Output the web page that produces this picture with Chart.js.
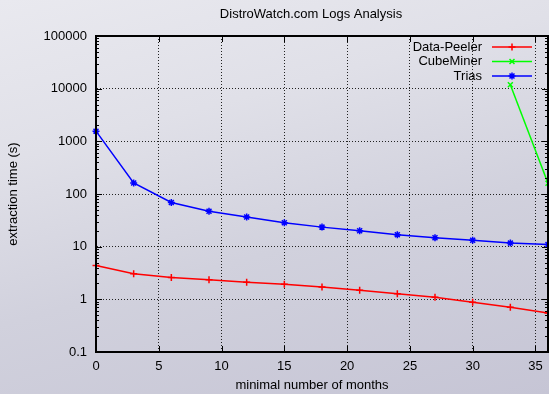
<!DOCTYPE html>
<html>
<head>
<meta charset="utf-8">
<script src="https://cdn.jsdelivr.net/npm/chart.js@4.4.1/dist/chart.umd.min.js"></script>
<style>
    html, body { margin: 0; padding: 0; }
    body {
        width: 549px; height: 394px; overflow: hidden;
        background: linear-gradient(165deg, #e9e9ef 0%, #e0e0e8 30%, #d1d1dd 60%, #c6c5d5 100%);
    }
    #wrap { position: relative; width: 549px; height: 394px; }
</style>
</head>
<body>
<div id="wrap"><canvas id="logsChart" width="549" height="394"></canvas></div>
<script>
// months threshold (x) and extraction times in seconds (y, log scale)
const months = [0, 3, 6, 9, 12, 15, 18, 21, 24, 27, 30, 33, 36];
const dataPeeler = [4.4, 3.07, 2.6, 2.36, 2.1, 1.93, 1.71, 1.48, 1.28, 1.1, 0.88, 0.71, 0.55];
const cubeMiner = [null, null, null, null, null, null, null, null, null, null, null, 11900, 160];
const trias = [1560, 162, 69, 47, 36.5, 28.5, 23.5, 20, 16.9, 14.8, 13.2, 11.7, 11];

const xTicks = [0, 5, 10, 15, 20, 25, 30, 35];
const yTicks = [0.1, 1, 10, 100, 1000, 10000, 100000];

const FONT = "'Liberation Sans', Arial, Helvetica, sans-serif";

function toPoints(values) {
    return months
        .map((m, i) => ({ x: m, y: values[i] }))
        .filter(p => p.y !== null);
}

// gnuplot style frame: full border, inward ticks, legend with text left of sample
const gnuplotFrame = {
    id: 'gnuplotFrame',
    afterDatasetsDraw(chart) {
        const ctx = chart.ctx;
        const area = chart.chartArea;
        const xs = chart.scales.x;
        const ys = chart.scales.y;
        ctx.save();
        ctx.strokeStyle = '#000';
        ctx.lineWidth = 1;
        ctx.beginPath();
        xTicks.forEach(v => {
            const px = Math.round(xs.getPixelForValue(v)) + 0.5;
            ctx.moveTo(px, area.bottom); ctx.lineTo(px, area.bottom - 6);
            ctx.moveTo(px, area.top); ctx.lineTo(px, area.top + 6);
        });
        yTicks.forEach(v => {
            const py = Math.round(ys.getPixelForValue(v)) + 0.5;
            ctx.moveTo(area.left, py); ctx.lineTo(area.left + 6, py);
            ctx.moveTo(area.right, py); ctx.lineTo(area.right - 6, py);
            if (v < 100000) {
                for (let k = 2; k <= 9; k++) {
                    const my = Math.round(ys.getPixelForValue(v * k)) + 0.5;
                    ctx.moveTo(area.left, my); ctx.lineTo(area.left + 3, my);
                    ctx.moveTo(area.right, my); ctx.lineTo(area.right - 3, my);
                }
            }
        });
        ctx.stroke();

        ctx.lineWidth = 2;
        ctx.strokeRect(area.left, area.top, area.right - area.left, area.bottom - area.top);

        // legend
        ctx.font = '13px ' + FONT;
        ctx.fillStyle = '#000';
        ctx.textAlign = 'right';
        ctx.textBaseline = 'middle';
        const rowY = [47, 61.5, 76];
        chart.data.datasets.forEach((ds, i) => {
            const y = rowY[i];
            ctx.fillText(ds.label, 482, y);
            ctx.strokeStyle = ds.borderColor;
            ctx.lineWidth = 1.5;
            ctx.beginPath();
            ctx.moveTo(492, y); ctx.lineTo(532, y);
            ctx.stroke();
            Chart.helpers.drawPoint(ctx, {
                pointStyle: ds.pointStyle,
                radius: ds.pointRadius,
                borderWidth: ds.pointBorderWidth,
                rotation: 0
            }, 512, y);
        });

        // titles
        ctx.textAlign = 'center';
        ctx.fillText('DistroWatch.com Logs Analysis', 311, 14);
        ctx.fillText('minimal number of months', 312, 385);
        ctx.restore();
    }
};

function lineSet(label, values, color, style) {
    return {
        label: label,
        data: toPoints(values),
        borderColor: color,
        backgroundColor: color,
        borderWidth: 1.5,
        pointStyle: style,
        pointRadius: 3.5,
        pointBorderWidth: 1.5,
        pointBorderColor: color,
        tension: 0,
        fill: false,
        clip: false
    };
}

const ctx = document.getElementById('logsChart').getContext('2d');
new Chart(ctx, {
    type: 'line',
    data: {
        datasets: [
            lineSet('Data-Peeler', dataPeeler, '#ff0000', 'cross'),
            lineSet('CubeMiner', cubeMiner, '#00ff00', 'crossRot'),
            lineSet('Trias', trias, '#0000ff', 'star')
        ]
    },
    options: {
        responsive: false,
        animation: false,
        layout: { autoPadding: false, padding: { top: 36, left: 0, right: 1, bottom: 0 } },
        plugins: {
            legend: { display: false },
            title: { display: false },
            tooltip: { enabled: false }
        },
        scales: {
            x: {
                type: 'linear',
                min: 0,
                max: 36,
                afterBuildTicks: scale => { scale.ticks = xTicks.map(v => ({ value: v })); },
                afterFit: scale => { scale.height = 42; scale.paddingRight = 0; scale.paddingLeft = 0; },
                grid: { color: '#222', lineWidth: 1, drawTicks: false },
                border: { display: true, color: '#000', width: 2, dash: [1, 2] },
                ticks: {
                    color: '#000',
                    font: { family: FONT, size: 13 },
                    padding: 7,
                    maxRotation: 0
                }
            },
            y: {
                type: 'logarithmic',
                min: 0.1,
                max: 100000,
                afterBuildTicks: scale => { scale.ticks = yTicks.map(v => ({ value: v })); },
                afterFit: scale => { scale.width = 96; scale.paddingTop = 0; scale.paddingBottom = 0; },
                grid: { color: '#222', lineWidth: 1, drawTicks: false },
                border: { display: true, color: '#000', width: 2, dash: [1, 2] },
                ticks: {
                    color: '#000',
                    font: { family: FONT, size: 13 },
                    padding: 9,
                    callback: value => String(value)
                },
                title: {
                    display: true,
                    text: 'extraction time (s)',
                    color: '#000',
                    font: { family: FONT, size: 13 },
                    padding: { top: 6, bottom: 0 }
                }
            }
        }
    },
    plugins: [gnuplotFrame]
});
</script>
</body>
</html>
